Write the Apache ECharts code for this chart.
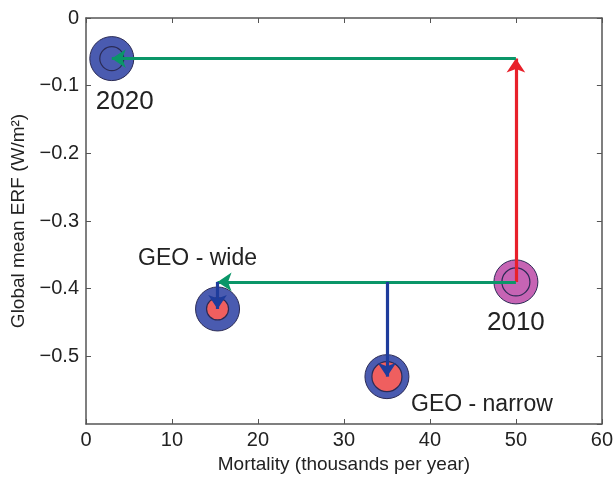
<!DOCTYPE html>
<html>
<head>
<meta charset="utf-8">
<script src="https://cdn.jsdelivr.net/npm/echarts@6/dist/echarts.min.js"></script>
<style>
  html, body { margin: 0; padding: 0; background: #fff; }
  #chart { width: 616px; height: 479px; }
</style>
</head>
<body>
<div id="chart"></div>
<script>
// Scenario points: mortality (thousands per year) vs global mean ERF (W/m^2)
const names = ['2020', '2010', 'GEO - wide', 'GEO - narrow'];
const mortality = [3, 50, 15.3, 35];
const erf = [-0.06, -0.39, -0.43, -0.53];
const xTicks = [0, 10, 20, 30, 40, 50, 60];
const yTicks = [0, -0.1, -0.2, -0.3, -0.4, -0.5];

const I2020 = 0, I2010 = 1, IWIDE = 2, INARROW = 3;

const FONT = '"Liberation Sans", Arial, Helvetica, sans-serif';
const AXIS_COLOR = '#555';

// Marker styling per point: outer disc, inner disc
const outerColor = ['#4a5bb0', '#c664b4', '#4a5bb0', '#4a5bb0'];
const innerColor = ['#4a5bb0', '#c664b4', '#ef5f5f', '#ef5f5f'];
const innerSize = [24, 28, 22, 30];
const labelOffset = [[13, 43], [0, 41], [-20, -50], [95, 28]];
const labelSize = [26, 26, 23, 23];

function pt(i) { return [mortality[i], erf[i]]; }

// Pathway arrows between scenarios
const arrows = [
  { from: pt(I2010), to: [mortality[I2010], erf[I2020]], color: '#e8202a' },
  { from: [mortality[I2010], erf[I2020]], to: pt(I2020), color: '#0a9668' },
  { from: pt(I2010), to: [mortality[IWIDE], erf[I2010]], color: '#0a9668' },
  { from: [mortality[INARROW], erf[I2010]], to: pt(INARROW), color: '#1e3c9c' },
  { from: [mortality[IWIDE], erf[I2010]], to: pt(IWIDE), color: '#1e3c9c' }
];

function fmtY(v) {
  const r = Math.round(v * 10) / 10;
  if (r === 0) return '0';
  return (r < 0 ? '\u2212' : '') + Math.abs(r).toFixed(1);
}

const axisCommon = {
  axisLine: { show: true, onZero: false, lineStyle: { color: AXIS_COLOR, width: 1.5 } },
  axisTick: { show: true, inside: true, length: 5, lineStyle: { color: AXIS_COLOR } },
  splitLine: { show: false }
};

const chart = echarts.init(document.getElementById('chart'));
chart.setOption({
  animation: false,
  backgroundColor: '#fff',
  grid: { left: 86, right: 13, top: 18, bottom: 53, containLabel: false },
  xAxis: [
    Object.assign({
      type: 'value', min: 0, max: 60, interval: 10, position: 'bottom',
      name: 'Mortality (thousands per year)', nameLocation: 'middle', nameGap: 31,
      nameTextStyle: { fontFamily: FONT, fontSize: 19, color: '#222' },
      axisLabel: { fontFamily: FONT, fontSize: 20, color: '#222', margin: 6,
        formatter: v => xTicks.includes(v) ? String(v) : '' }
    }, axisCommon),
    Object.assign({
      type: 'value', min: 0, max: 60, interval: 10, position: 'top',
      axisLabel: { show: false }
    }, axisCommon)
  ],
  yAxis: [
    Object.assign({
      type: 'value', min: -0.6, max: 0, interval: 0.1, position: 'left',
      name: 'Global mean ERF (W/m\u00B2)', nameLocation: 'middle', nameGap: 54,
      nameRotate: 90,
      nameTextStyle: { fontFamily: FONT, fontSize: 19, color: '#222' },
      axisLabel: { fontFamily: FONT, fontSize: 20, color: '#222', margin: 7,
        showMinLabel: false,
        formatter: v => yTicks.some(t => Math.abs(t - v) < 1e-6) ? fmtY(v) : '' }
    }, axisCommon),
    Object.assign({
      type: 'value', min: -0.6, max: 0, interval: 0.1, position: 'right',
      axisLabel: { show: false }
    }, axisCommon)
  ],
  series: [
    {
      type: 'scatter', z: 2,
      data: names.map((n, i) => ({
        value: pt(i),
        symbolSize: 44,
        itemStyle: { color: outerColor[i], opacity: 1, borderColor: '#2b2b55', borderWidth: 1 },
        label: {
          show: true, formatter: n, position: 'inside',
          offset: labelOffset[i],
          fontFamily: FONT, fontSize: labelSize[i], color: '#222'
        }
      }))
    },
    {
      type: 'scatter', z: 3,
      data: names.map((n, i) => ({
        value: pt(i),
        symbolSize: innerSize[i],
        itemStyle: { color: innerColor[i], opacity: 1, borderColor: '#2b2b55', borderWidth: 1.2 }
      }))
    },
    {
      type: 'lines', coordinateSystem: 'cartesian2d', z: 5,
      symbol: ['none', 'arrow'], symbolSize: 14,
      data: arrows.map(a => ({
        coords: [a.from, a.to],
        lineStyle: { color: a.color, width: 3.2, opacity: 1 }
      }))
    }
  ]
});
</script>
</body>
</html>
